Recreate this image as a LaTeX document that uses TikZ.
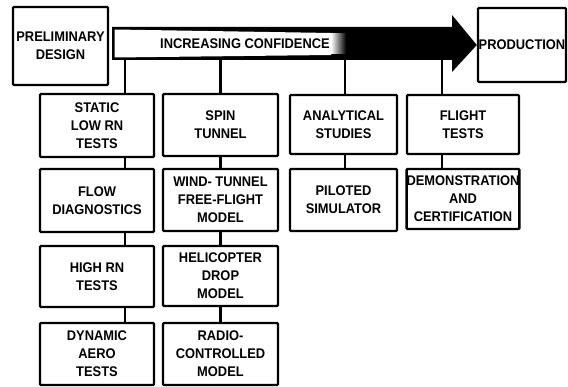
\documentclass[tikz,border=0pt]{standalone}
\usepackage{fontspec}
\setmainfont[FakeStretch=0.92]{Liberation Sans}
\begin{document}
\begin{tikzpicture}[x=1pt,y=-1pt,
  lbl/.style={font=\fontsize{14}{18}\selectfont\bfseries, align=center},
  box/.style={lbl, draw, line width=2.4pt, rounded corners=1pt, inner sep=0pt, fill=white},
  link/.style={line width=2.2pt}]
\useasboundingbox (0,0) rectangle (568,387);
% top row
\node[box, minimum width=95pt, minimum height=78pt] (prelim) at (60.5,46) {PRELIMINARY\\DESIGN};
\node[box, minimum width=88pt, minimum height=74pt] (prod) at (522,45) {PRODUCTION};
% confidence arrow
\fill[black] (112,27) -- (452,27) -- (452,15) -- (prod.west) -- (452,72) -- (452,60) -- (112,60) -- cycle;
\fill[white] (114.5,29.5) -- (331,33) -- (331,55) -- (114.5,57.5) -- cycle;
\shade[left color=white, right color=black] (331,34) rectangle (346,54);
\node[lbl] (conf) at (245,43.5) {INCREASING CONFIDENCE};
\coordinate (barb) at (112,60);
% column 1
\node[box, minimum width=114pt, minimum height=63pt] (static) at (97,125.5) {STATIC\\LOW RN\\TESTS};
\node[box, minimum width=114pt, minimum height=63pt] (flow) at (97,200.5) {FLOW\\DIAGNOSTICS};
\node[box, minimum width=114pt, minimum height=61pt] (high) at (97,276.5) {HIGH RN\\TESTS};
\node[box, minimum width=114pt, minimum height=62pt] (dyn) at (97,354) {DYNAMIC\\AERO\\TESTS};
% column 2
\node[box, minimum width=115pt, minimum height=62pt] (spin) at (220.5,125) {SPIN\\TUNNEL};
\node[box, minimum width=115pt, minimum height=62pt] (wind) at (220.5,200) {WIND- TUNNEL\\FREE-FLIGHT\\MODEL};
\node[box, minimum width=115pt, minimum height=60pt] (heli) at (220.5,276) {HELICOPTER\\DROP\\MODEL};
\node[box, minimum width=115pt, minimum height=62pt] (radio) at (220.5,354) {RADIO-\\CONTROLLED\\MODEL};
% column 3
\node[box, minimum width=107pt, minimum height=59pt] (anal) at (343.5,124.5) {ANALYTICAL\\STUDIES};
\node[box, minimum width=107pt, minimum height=62pt] (pil) at (343.5,200) {PILOTED\\SIMULATOR};
% column 4
\node[box, minimum width=112pt, minimum height=59pt] (flight) at (463,124.5) {FLIGHT\\TESTS};
\node[box, minimum width=112pt, minimum height=60pt] (demo) at (463,199) {DEMONSTRATION\\AND\\CERTIFICATION};
% connectors from bar
\draw[link] ([xshift=28pt]static.north) -- ([xshift=28pt]static.north |- barb);
\draw[link] (spin.north) -- (spin.north |- barb);
\draw[link] ([xshift=1.5pt]anal.north) -- ([xshift=1.5pt]anal.north |- barb);
\draw[link] ([xshift=-21pt]flight.north) -- ([xshift=-21pt]flight.north |- barb);
% column connectors
\draw[link] ([xshift=28pt]static.south) -- ([xshift=28pt]flow.north);
\draw[link] ([xshift=28pt]flow.south) -- ([xshift=28pt]high.north);
\draw[link] ([xshift=28pt]high.south) -- ([xshift=28pt]dyn.north);
\draw[link] (spin.south) -- (wind.north);
\draw[link] (wind.south) -- (heli.north);
\draw[link] (heli.south) -- (radio.north);
\draw[link] ([xshift=1.5pt]anal.south) -- ([xshift=1.5pt]pil.north);
\draw[link] ([xshift=-21pt]flight.south) -- ([xshift=-21pt]demo.north);
\end{tikzpicture}
\end{document}
